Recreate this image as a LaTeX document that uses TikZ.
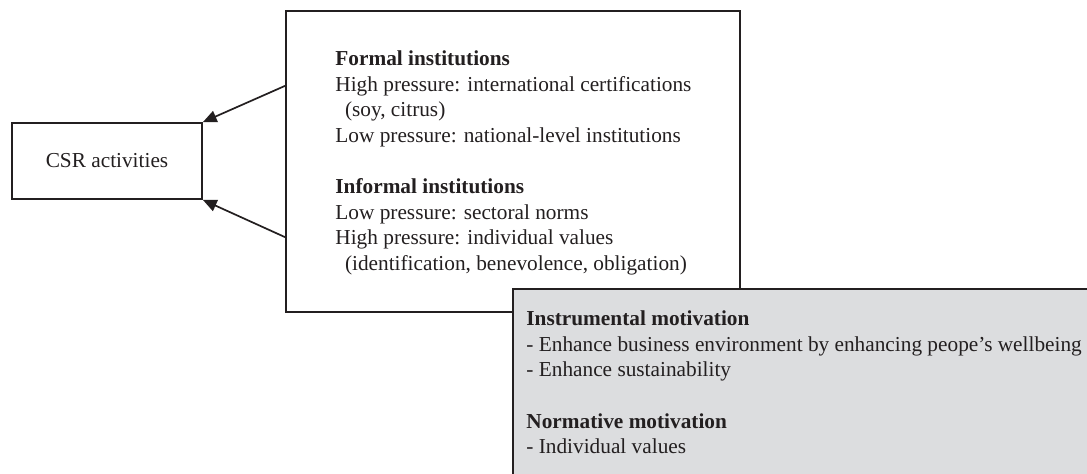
\documentclass[tikz,border=0pt]{standalone}
\usepackage{fontspec}
\setmainfont{Liberation Serif}
\usetikzlibrary{arrows.meta,calc}
\definecolor{ink}{RGB}{35,31,32}
\definecolor{motivgray}{RGB}{220,221,223}
\tikzset{
  box/.style={draw=ink, line width=0.8pt, inner sep=0pt, text=ink, font=\fontsize{10}{12}\selectfont},
  boxtext/.style={anchor=north west, align=left, inner sep=0pt, text=ink, font=\fontsize{10}{12}\selectfont},
  pointer/.style={draw=ink, line width=0.8pt, -{Triangle[length=6.5pt,width=5.6pt]}}
}
\begin{document}
\begin{tikzpicture}[x=0.4695pt,y=-0.4695pt]
  \useasboundingbox (0,0) rectangle (1087,474);
  \clip (0,0) rectangle (1087,474);
  % CSR box
  \node[box, minimum width=89.2pt, minimum height=35.7pt] (csr) at (107,161) {CSR activities};
  % institutions box
  \node[box, minimum width=213.2pt, minimum height=141.3pt] (inst) at (513,161.5) {};
  \node[boxtext] (insttext) at (335,50.5) {\textbf{Formal institutions}\\
    High pressure: international certifications\\
    \hspace*{4.5pt}(soy, citrus)\\
    Low pressure: national-level institutions\\[12pt]
    \textbf{Informal institutions}\\
    Low pressure: sectoral norms\\
    High pressure: individual values\\
    \hspace*{4.5pt}(identification, benevolence, obligation)};
  % motivation box (runs off the page)
  \node[box, fill=motivgray, minimum width=328.7pt, minimum height=140.9pt] (motiv) at (863,439) {};
  \node[boxtext] (motivtext) at (526,310.6) {\textbf{Instrumental motivation}\\
    - Enhance business environment by enhancing peope’s wellbeing\\
    - Enhance sustainability\\[12pt]
    \textbf{Normative motivation}\\
    - Individual values};
  % arrows
  \draw[pointer] ($(inst.north west)!0.25!(inst.south west)$) -- (csr.north east);
  \draw[pointer] ($(inst.north west)!0.75!(inst.south west)$) -- (csr.south east);
\end{tikzpicture}
\end{document}
